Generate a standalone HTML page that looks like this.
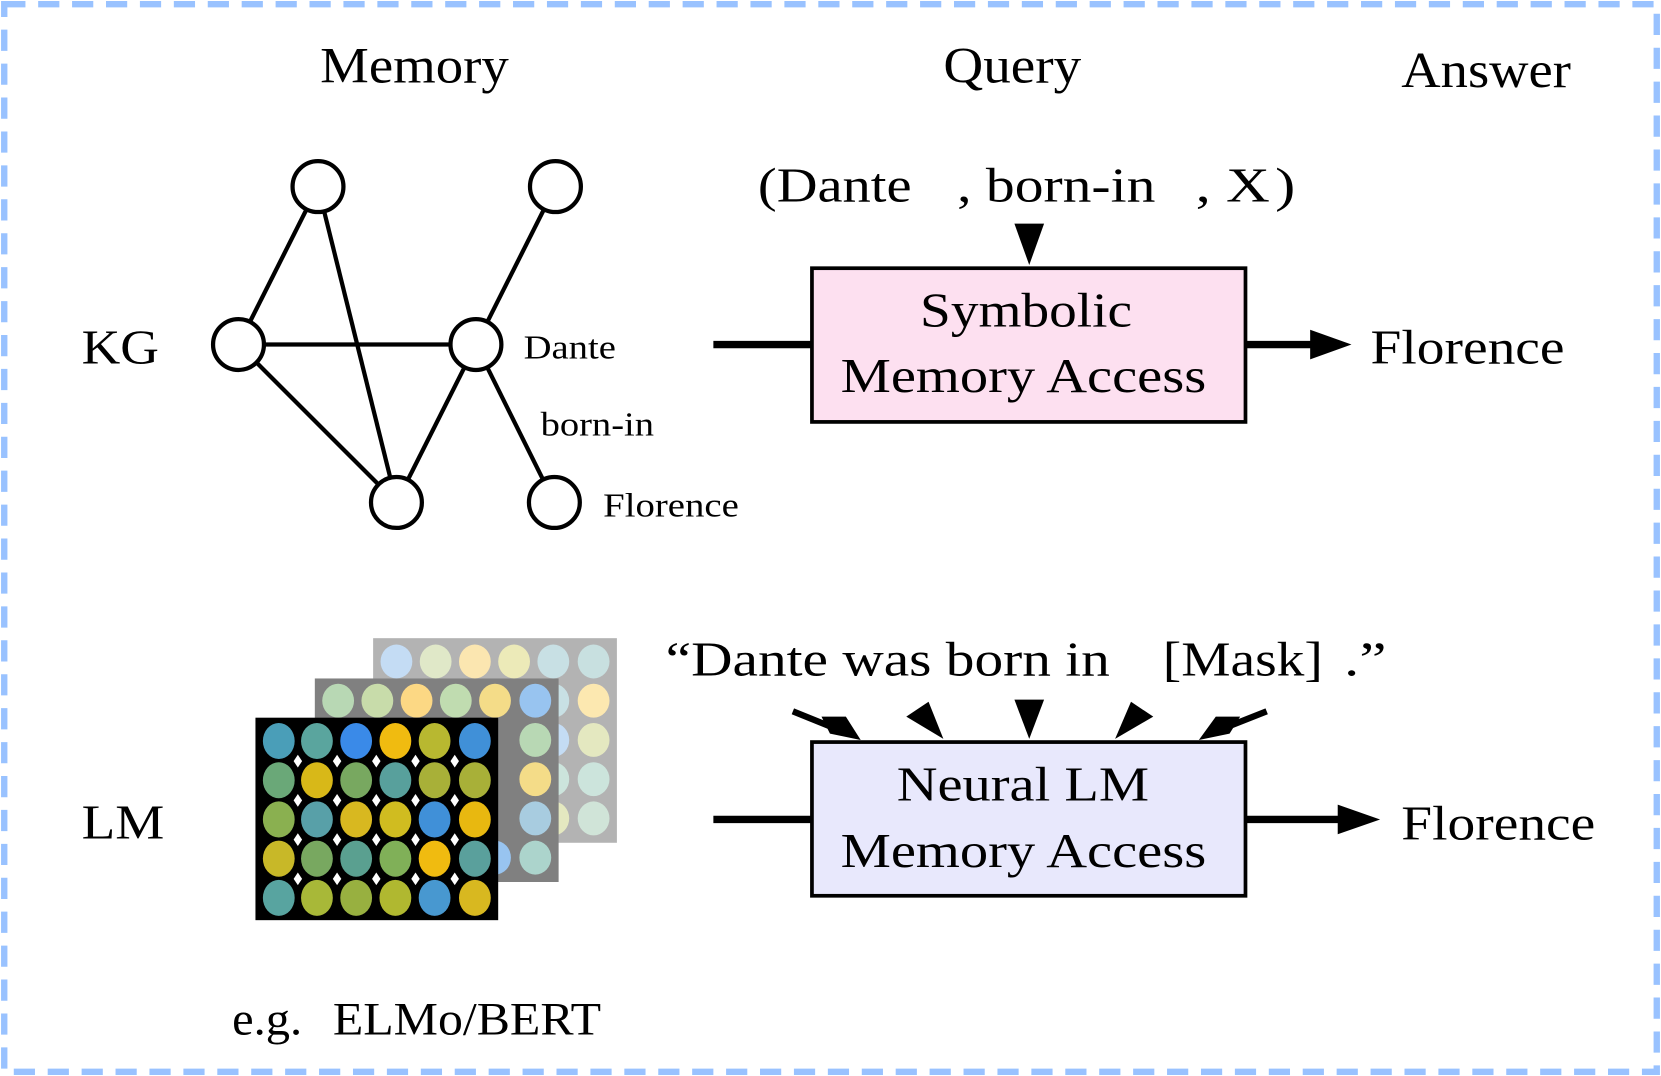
<!DOCTYPE html>
<html><head><meta charset="utf-8"><style>
html,body{margin:0;padding:0;background:#fff;}
svg{display:block;}
text{font-family:"Liberation Serif",serif;fill:#000;}
</style></head><body>
<svg width="1661" height="1076" viewBox="0 0 1567 1015" preserveAspectRatio="none" xmlns="http://www.w3.org/2000/svg">
<rect x="4" y="4" width="1559" height="1007" fill="#fff" stroke="#99c2ff" stroke-width="6" stroke-dasharray="20 12"/>
<text x="302" y="78" font-size="48" textLength="178" lengthAdjust="spacingAndGlyphs">Memory</text>
<text x="890" y="78" font-size="48" textLength="130" lengthAdjust="spacingAndGlyphs">Query</text>
<text x="1322" y="82" font-size="48" textLength="160" lengthAdjust="spacingAndGlyphs">Answer</text>
<text x="77" y="343" font-size="46" textLength="73" lengthAdjust="spacingAndGlyphs">KG</text>
<text x="77" y="791" font-size="46" textLength="78" lengthAdjust="spacingAndGlyphs">LM</text>
<g stroke="#000" stroke-width="4" fill="none">
<line x1="300" y1="176" x2="225" y2="325"/>
<line x1="300" y1="176" x2="374" y2="474"/>
<line x1="225" y1="325" x2="449" y2="325"/>
<line x1="225" y1="325" x2="374" y2="474"/>
<line x1="374" y1="474" x2="449" y2="325"/>
<line x1="449" y1="325" x2="524" y2="176"/>
<line x1="449" y1="325" x2="523" y2="474"/>
</g>
<g stroke="#000" stroke-width="4" fill="#fff">
<circle cx="300" cy="176" r="24"/><circle cx="524" cy="176" r="24"/>
<circle cx="225" cy="325" r="24"/><circle cx="449" cy="325" r="24"/>
<circle cx="374" cy="474" r="24"/><circle cx="523" cy="474" r="24"/>
</g>
<text x="494" y="338" font-size="32" textLength="87" lengthAdjust="spacingAndGlyphs">Dante</text>
<text x="510" y="411" font-size="32" textLength="107" lengthAdjust="spacingAndGlyphs">born-in</text>
<text x="569" y="487" font-size="32" textLength="128" lengthAdjust="spacingAndGlyphs">Florence</text>
<text x="715" y="190" font-size="46" textLength="145" lengthAdjust="spacingAndGlyphs">(Dante</text>
<text x="903" y="190" font-size="46" textLength="187" lengthAdjust="spacingAndGlyphs">, born-in</text>
<text x="1128" y="190" font-size="46" textLength="70" lengthAdjust="spacingAndGlyphs">, X</text>
<text x="1203" y="190" font-size="46" textLength="19" lengthAdjust="spacingAndGlyphs">)</text>
<polygon points="957,211 985,211 971,250" fill="#000"/>
<rect x="766" y="253" width="409" height="145" fill="#fde0f0" stroke="#000" stroke-width="3.5"/>
<text x="868" y="308" font-size="46" textLength="200" lengthAdjust="spacingAndGlyphs">Symbolic</text>
<text x="793" y="370" font-size="46" textLength="345" lengthAdjust="spacingAndGlyphs">Memory Access</text>
<line x1="673" y1="325" x2="766" y2="325" stroke="#000" stroke-width="7"/>
<line x1="1175" y1="325" x2="1240" y2="325" stroke="#000" stroke-width="7"/>
<polygon points="1236,311 1275,325 1236,339" fill="#000"/>
<text x="1293" y="343" font-size="46" textLength="183" lengthAdjust="spacingAndGlyphs">Florence</text>

<text x="628" y="637" font-size="46" textLength="419" lengthAdjust="spacingAndGlyphs">“Dante was born in</text>
<text x="1097" y="637" font-size="46" textLength="151" lengthAdjust="spacingAndGlyphs">[Mask]</text>
<text x="1268" y="637" font-size="46" textLength="40" lengthAdjust="spacingAndGlyphs">.”</text>
<rect x="766" y="700" width="409" height="145" fill="#e8e8fc" stroke="#000" stroke-width="3.5"/>
<text x="846" y="755" font-size="46" textLength="238" lengthAdjust="spacingAndGlyphs">Neural LM</text>
<text x="793" y="818" font-size="46" textLength="345" lengthAdjust="spacingAndGlyphs">Memory Access</text>
<line x1="673" y1="773" x2="766" y2="773" stroke="#000" stroke-width="7"/>
<line x1="1175" y1="773" x2="1266" y2="773" stroke="#000" stroke-width="7"/>
<polygon points="1262,759 1302,773 1262,787" fill="#000"/>
<text x="1322" y="792" font-size="46" textLength="183" lengthAdjust="spacingAndGlyphs">Florence</text>
<g stroke="#000" stroke-width="6">
<line x1="748" y1="671" x2="790" y2="688"/>
<line x1="1195" y1="671" x2="1152" y2="688"/>
</g>
<g fill="#000">
<polygon points="775,676 798,676 812,698 783,692"/>
<polygon points="957,660 985,660 971,697"/>
<polygon points="1170,676 1147,676 1131,698 1160,692"/>
<polygon points="855,676 876,662 890,697"/>
<polygon points="1088,676 1067,662 1052,697"/>
</g>

<rect x="352" y="602" width="230" height="193" fill="#b3b3b3"/>
<ellipse cx="374" cy="624" rx="15" ry="16" fill="#c4dcf4"/>
<ellipse cx="411" cy="624" rx="15" ry="16" fill="#e0e8c8"/>
<ellipse cx="448" cy="624" rx="15" ry="16" fill="#fbe6b0"/>
<ellipse cx="485" cy="624" rx="15" ry="16" fill="#eceab8"/>
<ellipse cx="522" cy="624" rx="15" ry="16" fill="#c8e0e4"/>
<ellipse cx="560" cy="624" rx="15" ry="16" fill="#c8e0e0"/>
<ellipse cx="560" cy="661" rx="15" ry="16" fill="#fce8b0"/>
<ellipse cx="560" cy="698" rx="15" ry="16" fill="#e4e8c0"/>
<ellipse cx="560" cy="735" rx="15" ry="16" fill="#cce4dc"/>
<ellipse cx="560" cy="772" rx="15" ry="16" fill="#d0e4d8"/>
<ellipse cx="522" cy="661" rx="15" ry="16" fill="#c8e0e4"/>
<ellipse cx="522" cy="698" rx="15" ry="16" fill="#c4dcf4"/>
<ellipse cx="522" cy="735" rx="15" ry="16" fill="#cce4dc"/>
<ellipse cx="522" cy="772" rx="15" ry="16" fill="#e4e8c0"/>
<rect x="297" y="640" width="230" height="192" fill="#808080"/>
<ellipse cx="319" cy="661" rx="15" ry="16" fill="#b8d8b4"/>
<ellipse cx="356" cy="661" rx="15" ry="16" fill="#c8dcaa"/>
<ellipse cx="393" cy="661" rx="15" ry="16" fill="#fcd884"/>
<ellipse cx="430" cy="661" rx="15" ry="16" fill="#c0dcb0"/>
<ellipse cx="467" cy="661" rx="15" ry="16" fill="#f4dc88"/>
<ellipse cx="505" cy="661" rx="15" ry="16" fill="#98c4f0"/>
<ellipse cx="505" cy="698" rx="15" ry="16" fill="#b8d8b4"/>
<ellipse cx="505" cy="735" rx="15" ry="16" fill="#f4dc88"/>
<ellipse cx="505" cy="772" rx="15" ry="16" fill="#a8cce0"/>
<ellipse cx="505" cy="809" rx="15" ry="16" fill="#acd4cc"/>
<ellipse cx="467" cy="809" rx="15" ry="16" fill="#98c4f0"/>
<rect x="241" y="677" width="229" height="191" fill="#000"/>
<g>
<ellipse cx="263" cy="699" rx="15" ry="17" fill="#4a9eb8"/><ellipse cx="299" cy="699" rx="15" ry="17" fill="#5aa59e"/><ellipse cx="336" cy="699" rx="15" ry="17" fill="#3a8ae8"/><ellipse cx="373" cy="699" rx="15" ry="17" fill="#f0bb10"/><ellipse cx="410" cy="699" rx="15" ry="17" fill="#b8b830"/><ellipse cx="448" cy="699" rx="15" ry="17" fill="#4090d8"/>
<ellipse cx="263" cy="736" rx="15" ry="17" fill="#6aa878"/><ellipse cx="299" cy="736" rx="15" ry="17" fill="#d8b818"/><ellipse cx="336" cy="736" rx="15" ry="17" fill="#78a860"/><ellipse cx="373" cy="736" rx="15" ry="17" fill="#58a09c"/><ellipse cx="410" cy="736" rx="15" ry="17" fill="#a8b038"/><ellipse cx="448" cy="736" rx="15" ry="17" fill="#a8b038"/>
<ellipse cx="263" cy="773" rx="15" ry="17" fill="#8ab050"/><ellipse cx="299" cy="773" rx="15" ry="17" fill="#58a0a8"/><ellipse cx="336" cy="773" rx="15" ry="17" fill="#d8b820"/><ellipse cx="373" cy="773" rx="15" ry="17" fill="#d0bc20"/><ellipse cx="410" cy="773" rx="15" ry="17" fill="#4090d8"/><ellipse cx="448" cy="773" rx="15" ry="17" fill="#e8b810"/>
<ellipse cx="263" cy="810" rx="15" ry="17" fill="#c8b828"/><ellipse cx="299" cy="810" rx="15" ry="17" fill="#78a860"/><ellipse cx="336" cy="810" rx="15" ry="17" fill="#5aa090"/><ellipse cx="373" cy="810" rx="15" ry="17" fill="#80b058"/><ellipse cx="410" cy="810" rx="15" ry="17" fill="#f0bb10"/><ellipse cx="448" cy="810" rx="15" ry="17" fill="#5aa09c"/>
<ellipse cx="263" cy="847" rx="15" ry="17" fill="#58a4a0"/><ellipse cx="299" cy="847" rx="15" ry="17" fill="#a8b838"/><ellipse cx="336" cy="847" rx="15" ry="17" fill="#98b040"/><ellipse cx="373" cy="847" rx="15" ry="17" fill="#b0b830"/><ellipse cx="410" cy="847" rx="15" ry="17" fill="#4898d0"/><ellipse cx="448" cy="847" rx="15" ry="17" fill="#d8b820"/>
</g>
<g fill="#fff">
<polygon points="281,712 285,718 281,724 277,718"/><polygon points="318,712 322,718 318,724 314,718"/><polygon points="355,712 359,718 355,724 351,718"/><polygon points="392,712 396,718 392,724 388,718"/><polygon points="429,712 433,718 429,724 425,718"/>
<polygon points="281,749 285,755 281,761 277,755"/><polygon points="318,749 322,755 318,761 314,755"/><polygon points="355,749 359,755 355,761 351,755"/><polygon points="392,749 396,755 392,761 388,755"/><polygon points="429,749 433,755 429,761 425,755"/>
<polygon points="281,786 285,792 281,798 277,792"/><polygon points="318,786 322,792 318,798 314,792"/><polygon points="355,786 359,792 355,798 351,792"/><polygon points="392,786 396,792 392,798 388,792"/><polygon points="429,786 433,792 429,798 425,792"/>
<polygon points="281,823 285,829 281,835 277,829"/><polygon points="318,823 322,829 318,835 314,829"/><polygon points="355,823 359,829 355,835 351,829"/><polygon points="392,823 396,829 392,835 388,829"/><polygon points="429,823 433,829 429,835 425,829"/>
</g>
<text x="219" y="976" font-size="44" textLength="66" lengthAdjust="spacingAndGlyphs">e.g.</text>
<text x="314" y="976" font-size="44" textLength="253" lengthAdjust="spacingAndGlyphs">ELMo/BERT</text>
</svg>
</body></html>
